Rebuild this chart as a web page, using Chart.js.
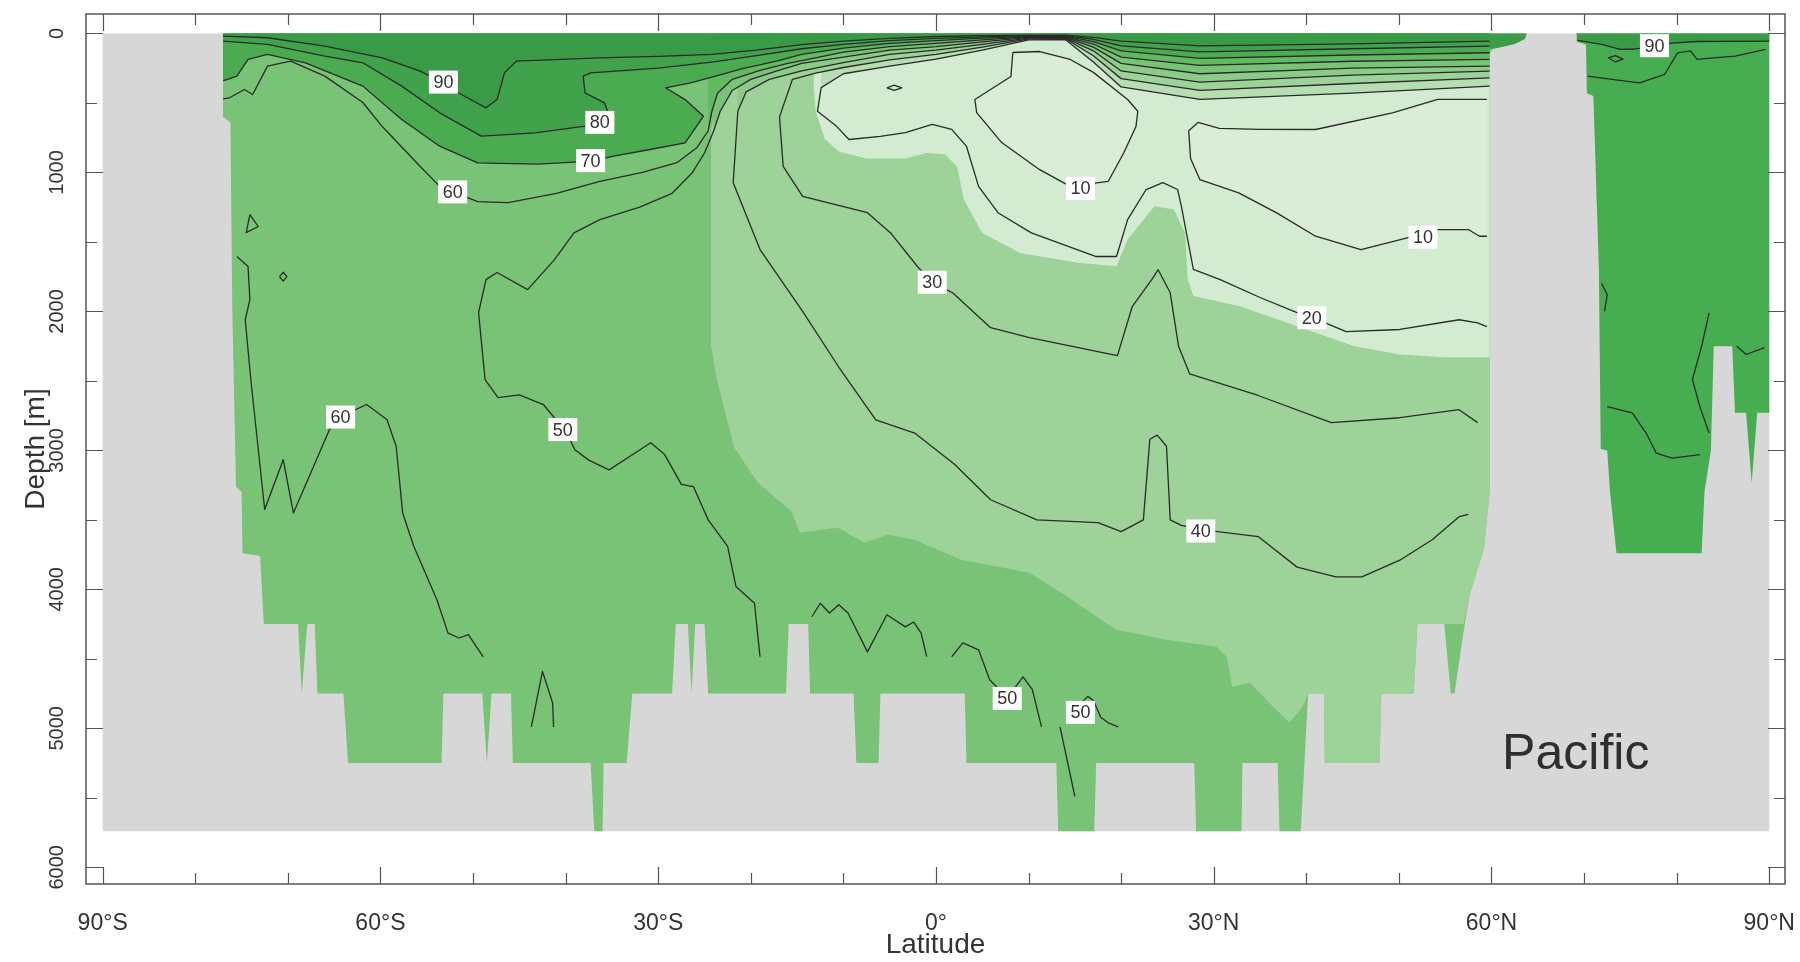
<!DOCTYPE html>
<html>
<head>
<meta charset="utf-8">
<title>Pacific section</title>
<script src="https://cdn.jsdelivr.net/npm/chart.js@4.4.1/dist/chart.umd.min.js"></script>
<style>
  html, body { margin: 0; padding: 0; background: #fff; }
  canvas { display: block; }
</style>
</head>
<body>
<canvas id="section" width="1800" height="962"></canvas>
<script>
// axis ticks
const xTicks = [-90, -60, -30, 0, 30, 60, 90];
const xTickLabels = ['90°S', '60°S', '30°S', '0°', '30°N', '60°N', '90°N'];
const yTicks = [0, 1000, 2000, 3000, 4000, 5000, 6000];
const xMinorStep = 10;
const yMinorStep = 500;

// every shape below is [latitude, depth in m]
const landBox = [[-90,0],[90,0],[90,5740],[-90,5740]];

const pacific = [[-77.0,0],[63.8,0],[63.6,40],[62.5,75],[61.2,95],[60.2,110],[59.8,140],[59.8,3300],[59.2,3700],[57.6,4050],[57.0,4300],[56.0,4750],[55.6,4750],[54.9,4250],[52.0,4250],[51.6,4750],[48.1,4750],[47.9,5250],[42.0,5250],[41.9,4750],[40.2,4750],[39.4,5740],[37.1,5740],[36.9,5250],[33.1,5250],[33.0,5740],[28.1,5740],[27.9,5250],[17.3,5250],[17.1,5740],[13.2,5740],[13.0,5250],[3.3,5250],[3.1,4750],[-6.0,4750],[-6.2,5250],[-8.6,5250],[-8.9,4750],[-13.6,4750],[-13.8,4250],[-15.9,4250],[-16.2,4750],[-24.6,4750],[-25.0,4250],[-26.0,4250],[-26.4,4750],[-26.8,4250],[-28.1,4250],[-28.5,4750],[-32.8,4750],[-33.4,5250],[-35.9,5250],[-36.0,5740],[-36.9,5740],[-37.3,5250],[-45.7,5250],[-45.9,4750],[-48.0,4750],[-48.5,5250],[-49.0,4750],[-53.2,4750],[-53.4,5250],[-63.5,5250],[-64.0,4750],[-66.8,4750],[-67.1,4250],[-67.9,4250],[-68.5,4750],[-68.9,4250],[-72.6,4250],[-73.0,3760],[-74.9,3740],[-75.0,3300],[-75.6,3260],[-76.0,2000],[-76.2,640],[-77.0,600]];

const arctic = [[69.2,0],[90,0],[90,2730],[88.7,2730],[88.1,3233],[87.5,2730],[86.3,2730],[86.0,2250],[84.0,2250],[83.7,3000],[83.0,3300],[82.7,3740],[73.5,3740],[72.8,3300],[72.5,3000],[71.8,2990],[71.6,1700],[71.0,450],[70.3,430],[70.2,80],[69.2,60]];

const surfaceTail = [[59.8,0],[63.8,0],[63.6,40],[62.5,75],[61.2,95],[60.2,110],[59.8,110]];

// colour zones that do not follow a contour line
const lightZone = [[-18,0],[59.8,0],[59.8,3300],[59.2,3700],[57.6,4050],[57.0,4250],[55.6,4250],[54.9,4250],[52.0,4250],[51.6,4750],[48.1,4750],[47.9,5250],[42.0,5250],[41.9,4750],[40.2,4750],[39.6,4845],[38.2,4960],[36.4,4845],[33.9,4672],[32.0,4700],[31.4,4485],[30.3,4413],[24.9,4363],[19.5,4290],[18.3,4240],[14.2,4053],[10.1,3880],[2.7,3787],[-2.3,3643],[-5.2,3607],[-7.7,3665],[-10.6,3557],[-14.7,3590],[-15.6,3440],[-19.3,3230],[-21.8,2980],[-23.7,2480],[-24.3,2240],[-24.3,700],[-23.5,480],[-21,350],[-18,250]];

const paleZone = [[-13.2,0],[59.8,0],[59.8,2330],[55,2330],[50.1,2310],[45.2,2250],[39,2107],[32.8,1963],[27.8,1890],[27.2,1771],[26.9,1435],[25.7,1267],[23.6,1243],[20.7,1483],[19.5,1675],[15.3,1650],[9.1,1580],[5,1435],[3,1195],[2.3,960],[1,870],[-1,860],[-3.3,900],[-7.5,900],[-10.5,850],[-12,760],[-13,560],[-13.2,380]];

// contour lines
const c90 = [[59.8,55],[45,75],[28.5,90],[20,55],[17,28],[14,12],[10,12],[5,16],[0,22],[-5,35],[-10,55],[-14.5,80],[-19.4,120],[-24.2,150],[-30,165],[-36.3,175],[-45.3,199],[-46.6,283],[-47.4,475],[-48.6,535],[-51.6,427],[-53.2,355],[-55.7,271],[-59.8,175],[-66,91],[-72.2,31],[-77,19]];
const c80 = [[59.8,91],[45,110],[28.5,132],[20,90],[17,42],[14,16],[10,16],[5,24],[0,35],[-5,52],[-10,78],[-14.5,110],[-19.4,160],[-24,205],[-30,250],[-37.3,283],[-38.1,307],[-37.9,427],[-35.8,499],[-35.3,590],[-36.2,640],[-37.9,667],[-43.3,715],[-49.1,739],[-53.6,571],[-57.7,379],[-61.9,211],[-66,163],[-72.2,79],[-77,55]];
const c70 = [[59.8,139],[45,155],[28.5,180],[20,125],[17,58],[14,20],[10,20],[5,34],[0,52],[-5,72],[-10,105],[-14.5,150],[-17,195],[-21,255],[-24,310],[-26.5,355],[-29.2,391],[-27,480],[-25.1,595],[-27.1,787],[-30.9,835],[-34.8,883],[-37.2,919],[-43,940],[-49.5,931],[-53.6,811],[-57.7,619],[-61.9,379],[-68.1,211],[-72.2,151],[-74.3,187],[-75.5,307],[-76.5,331],[-77,340]];
const c60 = [[59.8,187],[45,200],[28.5,230],[20,170],[17,76],[14,24],[10,24],[5,46],[0,72],[-5,95],[-10,135],[-13,175],[-16,215],[-19,265],[-22,330],[-23.6,430],[-24.2,560],[-24.6,700],[-25.8,820],[-28,930],[-31.7,1000],[-36.3,1065],[-41,1150],[-46.2,1217],[-49.5,1210],[-53.6,1100],[-55.7,957],[-59.8,670],[-61.9,497],[-66,307],[-69.7,199],[-72.2,235],[-73.8,439],[-74.7,403],[-76.3,463],[-77,470]];
const c50 = [[59.8,235],[45,250],[28.5,290],[20,215],[17,98],[14,28],[10,28],[5,60],[0,95],[-5,120],[-10,170],[-14.5,215],[-17,265],[-20,330],[-22,410],[-23.3,560],[-24,700],[-25,860],[-26.3,1000],[-28.5,1150],[-32,1250],[-36.3,1340],[-39.1,1435],[-41.2,1627],[-44.1,1843],[-47.4,1720],[-48.6,1771],[-49.4,2009],[-48.7,2490],[-47.3,2620],[-45,2600],[-42.4,2670],[-39.9,2870],[-39,2995],[-37.5,3070],[-35.3,3140],[-33,3040],[-30.8,2945],[-29.3,3030],[-27.5,3245],[-26.2,3260],[-24.6,3500],[-22.5,3690],[-21.6,3980],[-19.6,4100],[-19.2,4360],[-19.0,4485]];
const c40 = [[59.8,271],[45,300],[28.5,350],[20,270],[17,125],[14,33],[10,33],[5,78],[0,120],[-5,150],[-10,210],[-14.5,270],[-18,330],[-20.5,420],[-21.4,560],[-21.9,1075],[-19,1555],[-14.4,2000],[-10.5,2400],[-6.5,2780],[-2.3,2875],[2,3100],[5.9,3355],[10.9,3500],[17.5,3520],[20,3585],[22.4,3500],[23.1,2920],[23.9,2890],[24.9,2970],[25.3,3500],[26.5,3540],[28.7,3570],[34.8,3620],[39,3840],[43.2,3910],[46,3910],[50.1,3790],[53.6,3643],[56.5,3477],[57.5,3460]];
const c30 = [[59.8,319],[45,360],[28.5,410],[20,325],[17,160],[14,38],[10,39],[5,98],[0,150],[-5,190],[-10,245],[-13,285],[-15.5,330],[-16.9,600],[-16.5,957],[-14.4,1173],[-7.4,1290],[-4.9,1435],[-2,1677],[-0.4,1793],[1.8,1866],[5.9,2117],[10.1,2189],[19.6,2318],[21.2,1965],[23.3,1771],[24,1700],[25.3,1866],[26.2,2250],[27.4,2450],[34.8,2605],[42.7,2800],[50.1,2765],[56.5,2707],[58.5,2800]];
const c20 = [[59.8,379],[45,430],[28.5,475],[20,385],[17,205],[14,45],[10,46],[5,120],[0,185],[-5,235],[-10,290],[-12.4,390],[-12.8,560],[-10.7,670],[-9.4,763],[-6,740],[-3.3,713],[-0.4,655],[1.7,690],[3.3,813],[4.6,1100],[6.7,1290],[10.3,1435],[17.3,1605],[19.5,1605],[20.7,1340],[22.7,1123],[24.5,1073],[26.1,1123],[26.5,1242],[27.8,1698],[30.7,1771],[35,1900],[39,2009],[40.7,2045],[44.3,2145],[50.1,2130],[56.5,2060],[58.5,2083],[59.5,2110]];
const c10Loop = [[8.3,137],[8.1,310],[4.2,475],[4.4,570],[7.1,785],[11.2,980],[14.5,1100],[18.6,1065],[20.3,857],[21.6,670],[21.8,560],[20.7,475],[17,280],[14.5,187],[11.2,130],[8.3,137]];
const c10North = [[59.5,475],[54.2,475],[49.3,571],[41,691],[35,690],[30.6,683],[28.3,640],[27.3,700],[27.5,900],[28.5,1051],[32.7,1147],[36.8,1291],[41,1459],[45.9,1555],[50.9,1471],[54.2,1411],[57.5,1411],[58.7,1459],[59.5,1459]];
const c60Deep = [[-75.5,1605],[-74.3,1677],[-74.1,1915],[-74.6,2060],[-74.0,2490],[-72.5,3425],[-70.5,3067],[-69.4,3450],[-65.5,2850],[-64.3,2757],[-61.5,2670],[-59.3,2778],[-58.3,2970],[-57.6,3450],[-56.4,3690],[-53.9,4075],[-52.7,4315],[-51.5,4350],[-50.5,4325],[-48.9,4485]];
const smallBits = [
  [[-74.1,1303],[-73.2,1389],[-74.5,1433],[-74.1,1303]],
  [[-70.9,1750],[-70.5,1718],[-70.1,1750],[-70.5,1782],[-70.9,1750]],
  [[-5.3,391],[-4.5,372],[-3.7,391],[-4.5,410],[-5.3,391]],
  [[-43.7,4990],[-42.5,4590],[-41.4,4818],[-41.3,4990]],
  [[-13.4,4197],[-12.5,4100],[-11.5,4170],[-10.5,4110],[-9.5,4170],[-7.4,4450],[-5.3,4183],[-3.3,4270],[-2.4,4235],[-1.6,4315],[-1.0,4485]],
  [[1.7,4485],[2.9,4385],[4.6,4435],[5.8,4650],[7.7,4780],[9.4,4630],[10.4,4720],[11.4,4990]],
  [[13.4,4990],[15.0,5490]],
  [[14.6,4890],[16.4,4770],[17.0,4800],[17.8,4920],[18.6,4960],[19.7,4990]]
];
const arcticTop = [[69.3,50],[71.9,79],[73.9,115],[75.5,112],[77.6,90],[79.5,70],[82.2,58],[90,55]];
const arcticLines = [
  arcticTop,
  [[70.4,307],[73,330],[76,355],[78.7,295],[80.1,139],[81.5,125],[82.2,187],[84,175],[86.3,163],[89.6,115]],
  [[72.6,175],[73.4,160],[74.2,185],[73.4,205],[72.6,175]],
  [[72.5,2685],[75.2,2730],[76.7,2875],[77.8,3020],[79.5,3055],[82.5,3030]],
  [[83.5,2010],[82.7,2250],[81.7,2490],[82.5,2685],[83.5,2875]],
  [[86.5,2250],[87.5,2310],[89.5,2260]],
  [[71.9,1800],[72.5,1880],[72.2,2000]]
];

// contour labels
const labLat   = [-53.2, -36.3, -37.3, -52.2, 15.6, -0.4, 52.6, 40.6, -64.3, -40.3, 28.6, 7.7, 15.6, 77.6];
const labDepth = [350, 640, 915, 1140, 1115, 1790, 1466, 2045, 2760, 2850, 3580, 4785, 4885, 88];
const labText  = ['90', '80', '70', '60', '10', '30', '10', '20', '60', '50', '40', '50', '50', '90'];

// close a contour up to the sea surface, cut at a given latitude
function capped(line, cutLat) {
  let k = line.findIndex(p => p[0] === cutLat);
  if (k < 0) k = line.length - 1;
  return line.slice(0, k + 1).concat([[line[k][0], 0], [line[0][0], 0]]);
}

const fills = [
  [landBox, '#d7d7d7'],
  [pacific, '#79c376'],
  [arctic, '#47ad51'],
  [lightZone, '#9dd298'],
  [paleZone, '#d3ebd0'],
  [c10Loop, '#daeed7'],
  [c10North, '#daeed7'],
  [capped(c20, -12.4), '#b7ddb2'],
  [capped(c30, -15.5), '#9dd298'],
  [capped(c40, -21.4), '#8bca87'],
  [capped(c50, -24), '#79c376'],
  [capped(c60, -24.6), '#62b962'],
  [capped(c70), '#4aab51'],
  [capped(c80), '#41a24c'],
  [capped(c90), '#3a9b47'],
  [surfaceTail, '#3c9d48'],
  [arcticTop.concat([[90,0],[69.2,0]]), '#3b9c48']
];
const lines = [c90, c80, c70, c60, c50, c40, c30, c20, c10Loop, c10North, c60Deep]
  .concat(smallBits).concat(arcticLines);

const toXY = a => a.map(p => ({x: p[0], y: p[1]}));
const datasets = [];
fills.forEach(f => datasets.push({
  data: toXY(f[0]), fill: 'shape', backgroundColor: f[1],
  borderWidth: 0, borderColor: 'rgba(0,0,0,0)', pointRadius: 0
}));
lines.forEach(l => datasets.push({
  data: toXY(l), fill: false, borderColor: '#2a2a2a', borderWidth: 1.3,
  borderJoinStyle: 'round', pointRadius: 0
}));
// later datasets on top
datasets.forEach((d, i) => { d.order = datasets.length - i; });

const FONT = 'Liberation Sans, Arial, Helvetica, sans-serif';

const frameAndText = {
  id: 'frameAndText',
  afterDatasetsDraw(chart) {
    const {ctx, chartArea: a, scales: {x, y}} = chart;
    ctx.save();
    // contour labels
    ctx.font = '18px ' + FONT;
    ctx.textAlign = 'center';
    ctx.textBaseline = 'middle';
    for (let i = 0; i < labText.length; i++) {
      const px = x.getPixelForValue(labLat[i]);
      const py = y.getPixelForValue(labDepth[i]);
      const w = ctx.measureText(labText[i]).width + 9;
      ctx.fillStyle = '#ffffff';
      ctx.fillRect(px - w / 2, py - 11.5, w, 23);
      ctx.fillStyle = '#333333';
      ctx.fillText(labText[i], px, py + 1);
    }
    // basin name
    ctx.font = '50px ' + FONT;
    ctx.fillStyle = '#2e2e2e';
    ctx.fillText('Pacific', x.getPixelForValue(69.1), y.getPixelForValue(5190));

    // frame with inward ticks
    ctx.strokeStyle = '#555555';
    ctx.lineWidth = 1.5;
    ctx.strokeRect(a.left, a.top, a.right - a.left, a.bottom - a.top);
    ctx.beginPath();
    for (let v = xTicks[0]; v <= xTicks[xTicks.length - 1]; v += xMinorStep) {
      const px = Math.round(x.getPixelForValue(v)) + 0.5;
      const len = xTicks.includes(v) ? 17 : 11;
      ctx.moveTo(px, a.bottom); ctx.lineTo(px, a.bottom - len);
      ctx.moveTo(px, a.top); ctx.lineTo(px, a.top + len);
    }
    for (let v = yTicks[0]; v <= yTicks[yTicks.length - 1]; v += yMinorStep) {
      const py = Math.round(y.getPixelForValue(v)) + 0.5;
      const len = yTicks.includes(v) ? 17 : 11;
      ctx.moveTo(a.left, py); ctx.lineTo(a.left + len, py);
      ctx.moveTo(a.right, py); ctx.lineTo(a.right - len, py);
    }
    ctx.lineWidth = 1.2;
    ctx.stroke();
    ctx.restore();
  }
};

new Chart(document.getElementById('section'), {
  type: 'line',
  data: { datasets: datasets },
  options: {
    responsive: false,
    animation: false,
    devicePixelRatio: 1,
    events: [],
    layout: { padding: { top: 14, right: 15, left: 0, bottom: 0 } },
    elements: { point: { radius: 0 }, line: { tension: 0 } },
    plugins: { legend: { display: false }, tooltip: { enabled: false } },
    scales: {
      x: {
        type: 'linear', min: -91.8, max: 91.7,
        grid: { display: false, drawTicks: false },
        border: { display: false },
        afterBuildTicks: s => { s.ticks = xTicks.map(v => ({ value: v })); },
        afterFit: s => { s.height = 78; s.paddingLeft = 0; s.paddingRight = 0; },
        ticks: {
          autoSkip: false, maxRotation: 0, padding: 26, color: '#333',
          font: { family: FONT, size: 23 },
          callback: v => xTickLabels[xTicks.indexOf(v)]
        },
        title: {
          display: true, text: 'Latitude', color: '#333',
          font: { family: FONT, size: 28 }, padding: { top: 0, bottom: 0 }
        }
      },
      y: {
        type: 'linear', reverse: true, min: -140, max: 6120,
        grid: { display: false, drawTicks: false },
        border: { display: false },
        afterBuildTicks: s => { s.ticks = yTicks.map(v => ({ value: v })); },
        afterFit: s => { s.width = 86; s.paddingTop = 0; s.paddingBottom = 0; },
        ticks: {
          autoSkip: false, minRotation: 90, maxRotation: 90, crossAlign: 'center',
          padding: 6, color: '#333', font: { family: FONT, size: 20 },
          callback: v => String(v)
        },
        title: {
          display: true, text: 'Depth [m]', color: '#333',
          font: { family: FONT, size: 28 }, padding: { top: 19, bottom: 0 }
        }
      }
    }
  },
  plugins: [frameAndText]
});
</script>
</body>
</html>
